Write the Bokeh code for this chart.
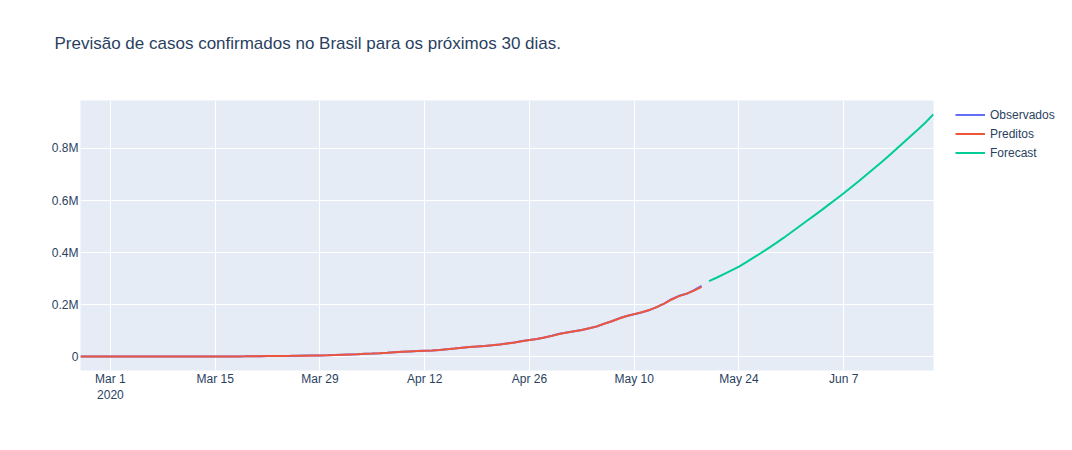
import pandas as pd
from bokeh.plotting import figure
from bokeh.models import Range1d, FixedTicker, Legend, LegendItem, Title
from bokeh.embed import file_html
from bokeh.resources import INLINE

obs_start = "2020-02-26"
observados = [
    1, 1, 1, 2,
    2, 2, 2, 3, 8, 13, 19, 25, 25, 34, 52, 77, 98, 121, 200, 234, 291, 428, 621, 904, 1128, 1546, 1891,
    2201, 2433, 2915, 3417, 3904, 4256, 4579, 5717,
    6836, 8044, 9056, 10360, 11130, 12161, 14034, 16170, 18092, 19638, 20727, 22192, 23430, 25262, 28320,
    30425, 33682, 36658, 38654, 40743, 43079, 45757, 50036, 54043, 59324, 63100, 67446, 73235, 79685, 87187,
    92202, 97100, 101826, 108620, 115455, 126611, 135773, 146894, 156061, 162699, 169594, 178214, 190137,
    203165, 220291, 233511, 241080, 255368, 271628,
]
preditos = [
    0, 1, 1, 2,
    2, 2, 2, 3, 7, 12, 18, 24, 26, 35, 50, 75, 97, 125, 190, 240, 300, 420, 610, 890, 1130, 1530, 1880,
    2190, 2450, 2900, 3400, 3880, 4250, 4600, 5650,
    6900, 8000, 9100, 10300, 11200, 12300, 14000, 16100, 18000, 19700, 20800, 22200, 23500, 25400, 28200,
    30500, 33600, 36500, 38700, 40800, 43200, 45900, 49800, 54100, 59000, 63200, 67600, 73100, 79400, 86700,
    92000, 97500, 102300, 108400, 115900, 125900, 135700, 146300, 155600, 162900, 170100, 178600, 189700,
    203500, 219400, 232300, 241900, 253600, 268000,
]
fc_start = "2020-05-20"
forecast = [
    290000, 303000, 317000, 331000, 346000, 363000, 381000, 399000, 418000, 437000, 457000, 478000,
    499000, 520000, 541000, 562000, 584000, 606000, 628000, 651000, 674000, 698000, 722000, 746000,
    771000, 797000, 823000, 849000, 875000, 902000, 932000,
]
x_ticks = ["2020-03-01", "2020-03-15", "2020-03-29", "2020-04-12", "2020-04-26", "2020-05-10", "2020-05-24", "2020-06-07"]
x_tick_labels = ["Mar 1\n2020", "Mar 15", "Mar 29", "Apr 12", "Apr 26", "May 10", "May 24", "Jun 7"]
y_ticks = [0, 200000, 400000, 600000, 800000]
y_tick_labels = ["0", "0.2M", "0.4M", "0.6M", "0.8M"]
title_text = "Previsão de casos confirmados no Brasil para os próximos 30 dias."

obs_dates = pd.date_range(obs_start, periods=len(observados), freq="D")
fc_dates = pd.date_range(fc_start, periods=len(forecast), freq="D")

FONT = "Liberation Sans"
TXT = "#2a3f5f"

p = figure(x_axis_type="datetime", output_backend="svg", toolbar_location=None,
           frame_width=853, frame_height=270,
           min_border_left=80, min_border_right=120, min_border_top=100, min_border_bottom=64,
           title=title_text)
p.background_fill_color = "#E5ECF6"
p.border_fill_color = "white"
p.outline_line_color = None

p.title.text_font = FONT
p.title.text_font_size = "17px"
p.title.text_font_style = "normal"
p.title.text_color = TXT
p.title.align = "left"
p.title.offset = -26
p.title.standoff = 10

# invisible spacer between the title and the plot frame
p.add_layout(Title(text=" ", text_font_size="1px", standoff=40), "above")

p.x_range = Range1d(pd.Timestamp("2020-02-26"), pd.Timestamp("2020-06-19"))
p.y_range = Range1d(-53800, 984600)

ms = lambda s: pd.Timestamp(s).value / 1e6
p.xaxis.ticker = FixedTicker(ticks=[ms(t) for t in x_ticks])
p.xaxis.major_label_overrides = {ms(t): l for t, l in zip(x_ticks, x_tick_labels)}
p.yaxis.ticker = FixedTicker(ticks=y_ticks)
p.yaxis.major_label_overrides = {t: l for t, l in zip(y_ticks, y_tick_labels)}

for ax in (p.xaxis, p.yaxis):
    ax.axis_line_color = None
    ax.major_tick_line_color = None
    ax.minor_tick_line_color = None
    ax.major_tick_out = 0
    ax.major_tick_in = 0
    ax.minor_tick_out = 0
    ax.minor_tick_in = 0
    ax.major_label_text_font = FONT
    ax.major_label_text_font_size = "12px"
    ax.major_label_text_color = TXT
p.xaxis.major_label_standoff = 1
p.yaxis.major_label_standoff = 2

p.xgrid.grid_line_color = "white"
p.ygrid.grid_line_color = "white"

r1 = p.line(obs_dates, observados, line_color="#636efa", line_width=2)
r2 = p.line(obs_dates, preditos, line_color="#EF553B", line_width=2)
r3 = p.line(fc_dates, forecast, line_color="#00cc96", line_width=2)

legend = Legend(items=[LegendItem(label="Observados", renderers=[r1]),
                       LegendItem(label="Preditos", renderers=[r2]),
                       LegendItem(label="Forecast", renderers=[r3])],
                location=(22, 208), padding=0, margin=0, spacing=0,
                glyph_width=30, glyph_height=19, label_height=19, label_standoff=5,
                label_text_font=FONT, label_text_font_size="12px", label_text_color=TXT,
                background_fill_alpha=0, border_line_alpha=0)
p.add_layout(legend, "right")

open("out.html", "w").write(file_html(p, INLINE))
